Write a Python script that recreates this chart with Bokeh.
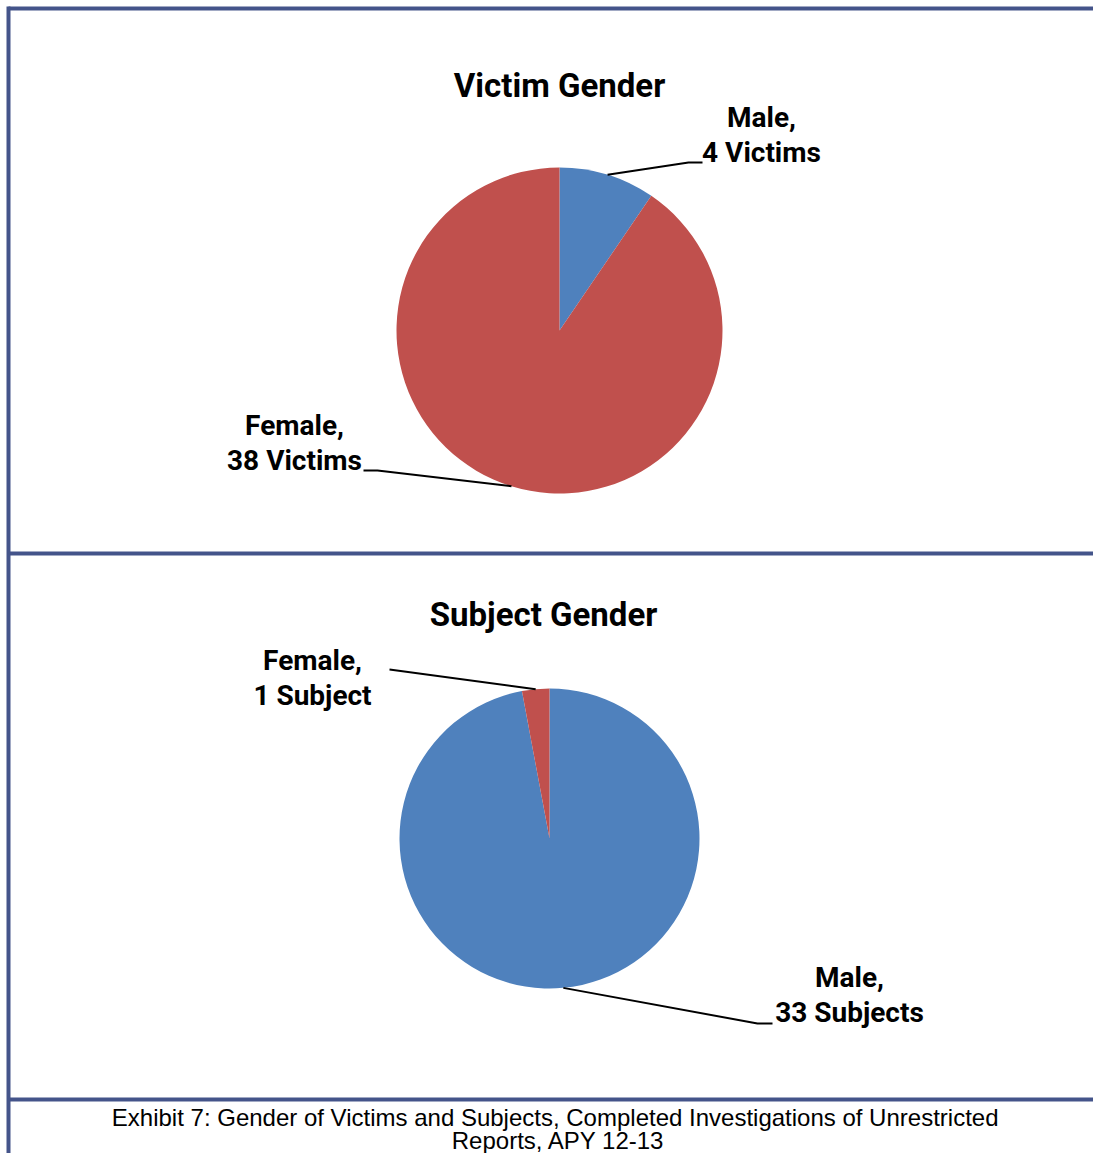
import math
from bokeh.plotting import figure
from bokeh.models import Range1d
from bokeh.core.properties import value
from bokeh.embed import file_html
from bokeh.resources import INLINE

# ---- data ----
victim_categories = ["Male", "Female"]
victim_values = [4, 38]
victim_units = ["Victims", "Victims"]
victim_colors = ["#4F81BD", "#C0504D"]

subject_categories = ["Male", "Female"]
subject_values = [33, 1]
subject_units = ["Subjects", "Subject"]
subject_colors = ["#4F81BD", "#C0504D"]

title_victim = "Victim Gender"
title_subject = "Subject Gender"
caption_lines = ["Exhibit 7:  Gender of Victims and Subjects, Completed Investigations of Unrestricted",
                 "Reports, APY 12-13"]

W, H = 1093, 1153
REF_W = 1101
BOLD = "Roboto"
REG = "Liberation Sans"
BORDER = "#44548A"

p = figure(width=W, height=H, x_range=Range1d(0, W), y_range=Range1d(0, H),
           output_backend="svg", toolbar_location=None, min_border=0,
           outline_line_color=None)
p.axis.visible = False
p.grid.visible = False


def Y(y):
    return H - y


# frame lines
p.segment(x0=[8, 8, 8, 8], y0=[Y(6), Y(8), Y(553), Y(1099)],
          x1=[8, REF_W, REF_W, REF_W], y1=[Y(1170), Y(8), Y(553), Y(1099)],
          line_color=BORDER, line_width=4)


def pie(cx, cy, r, cats, vals, units, colors, label_pos, elbows, ends):
    total = sum(vals)
    cum = 0
    starts, stops, mids = [], [], []
    for v in vals:
        a0 = cum / total * 2 * math.pi
        cum += v
        a1 = cum / total * 2 * math.pi
        starts.append(math.pi / 2 - a0)
        stops.append(math.pi / 2 - a1)
        mids.append((a0 + a1) / 2)
    p.wedge(x=[cx] * len(vals), y=[Y(cy)] * len(vals), radius=r,
            start_angle=starts, end_angle=stops, direction="clock",
            fill_color=colors, line_color=None)
    for cat, v, u, m, (lx, ly), (ex, ey), (hx, hy) in zip(cats, vals, units, mids, label_pos, elbows, ends):
        ax = cx + r * math.sin(m)
        ay = Y(cy) + r * math.cos(m)
        p.line(x=[ax, ex, hx], y=[ay, Y(ey), Y(hy)], line_color="black", line_width=2)
        p.text(x=[lx, lx], y=[Y(ly), Y(ly + 35)], text=[f"{cat},", f"{v} {u}"],
               text_align="center", text_baseline="middle",
               text_font=value(BOLD), text_font_style="bold", text_font_size="28px",
               text_color="black")


pie(559, 330, 163, victim_categories, victim_values, victim_units, victim_colors,
    label_pos=[(761, 117), (294, 425)],
    elbows=[(688, 162), (377, 470)],
    ends=[(702, 162), (363, 470)])

pie(549, 838, 150, subject_categories, subject_values, subject_units, subject_colors,
    label_pos=[(849, 977), (312, 660)],
    elbows=[(757, 1023), (389, 669)],
    ends=[(772, 1023), (389, 669)])

p.text(x=[559, 543], y=[Y(85), Y(614)], text=[title_victim, title_subject],
       text_align="center", text_baseline="middle",
       text_font=value(BOLD), text_font_style="bold", text_font_size="33px",
       text_color="black")

p.text(x=[558, 558], y=[Y(1117), Y(1140)], text=caption_lines,
       text_align="center", text_baseline="middle",
       text_font=value(REG), text_font_size="24px", text_color="black")

open("out.html", "w").write(file_html(p, INLINE))
